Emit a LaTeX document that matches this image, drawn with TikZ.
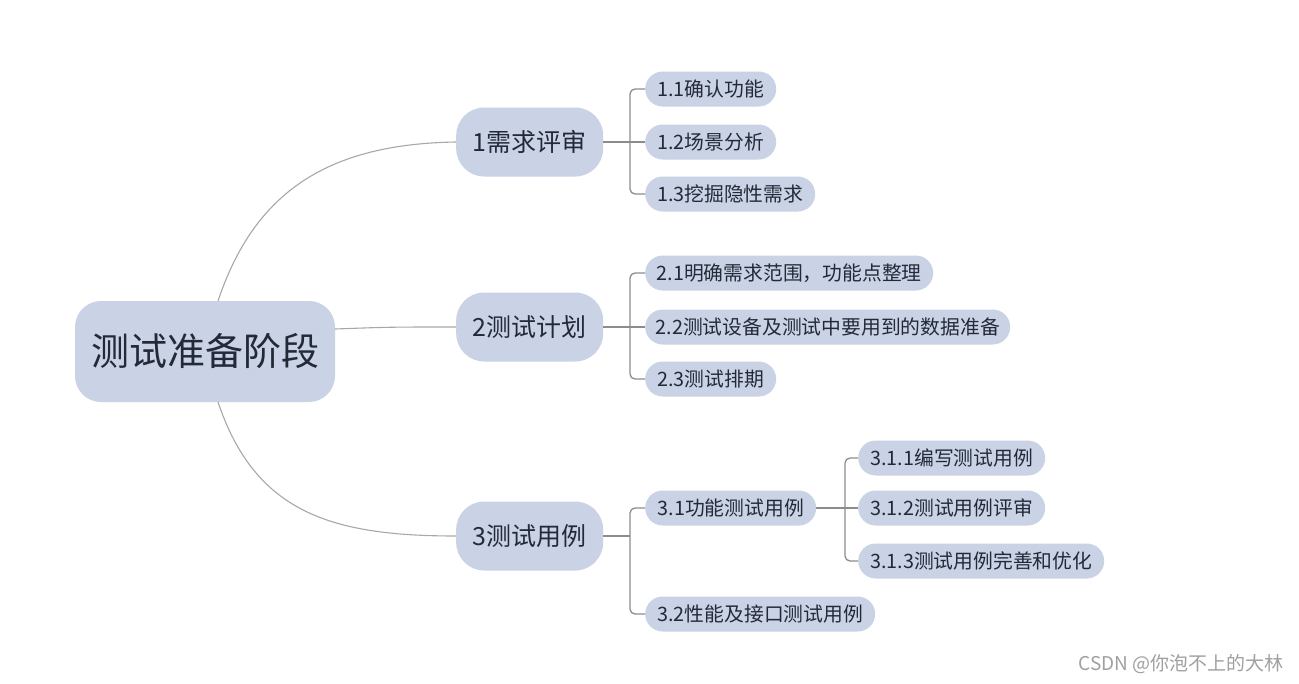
\documentclass[tikz,border=0pt]{standalone}
\usepackage{fontspec}
\setmainfont{Noto Sans CJK SC}
\definecolor{nodefill}{HTML}{C9D3E5}
\definecolor{txt}{HTML}{232938}
\definecolor{curvecol}{HTML}{A8A8A8}
\definecolor{brcol}{HTML}{8C8C8C}
\definecolor{wmcol}{HTML}{A0A0A0}
\tikzset{
  rootbox/.style={fill=nodefill, rounded corners=26pt, minimum width=260pt, minimum height=101pt, inner sep=0pt, text=txt, font=\fontsize{38}{44}\selectfont},
  mainbox/.style={fill=nodefill, rounded corners=28pt, minimum width=147pt, minimum height=69pt, inner sep=0pt, anchor=west, text=txt, font=\fontsize{25}{30}\selectfont},
  leafbox/.style={fill=nodefill, rounded corners=17.5pt, minimum height=35pt, inner sep=0pt, anchor=west, text=txt, font=\fontsize{19.8}{23}\selectfont},
  curveline/.style={draw=curvecol, line width=1.1pt},
  brline/.style={draw=brcol, line width=1.3pt, rounded corners=5pt},
}
\begin{document}
\begin{tikzpicture}[x=1pt,y=-1pt]
\useasboundingbox[fill=white] (0,0) rectangle (1299,683);

% root
\node[rootbox] (root) at (205,351.5) {测试准备阶段};

% level 1
\node[mainbox] (n1) at (456,142) {1需求评审};
\node[mainbox] (n2) at (456,327) {2测试计划};
\node[mainbox] (n3) at (456,536) {3测试用例};

% level 2
\node[leafbox, minimum width=131pt] (c11) at (645,89) {1.1确认功能};
\node[leafbox, minimum width=131pt] (c12) at (645,142) {1.2场景分析};
\node[leafbox, minimum width=170pt] (c13) at (645,194) {1.3挖掘隐性需求};

\node[leafbox, minimum width=288pt] (c21) at (645,273) {2.1明确需求范围，功能点整理};
\node[leafbox, minimum width=365pt] (c22) at (645,327) {2.2测试设备及测试中要用到的数据准备};
\node[leafbox, minimum width=131pt] (c23) at (645,379) {2.3测试排期};

\node[leafbox, minimum width=171pt] (c31) at (645,508) {3.1功能测试用例};
\node[leafbox, minimum width=230pt] (c32) at (645,614) {3.2性能及接口测试用例};

\node[leafbox, minimum width=187pt] (c311) at (858,458) {3.1.1编写测试用例};
\node[leafbox, minimum width=187pt] (c312) at (858,508) {3.1.2测试用例评审};
\node[leafbox, minimum width=246pt] (c313) at (858,561) {3.1.3测试用例完善和优化};

% root connectors
\coordinate (rtop) at (218,301);
\coordinate (rmid) at (335,329);
\coordinate (rbot) at (218,402);
\draw[curveline] (rtop) .. controls (255,190) and (330,144) .. (n1.west);
\draw[curveline] (rmid) .. controls (390,327) .. (n2.west);
\draw[curveline] (rbot) .. controls (255,512) and (330,536) .. (n3.west);

% brackets
\draw[brline] (n1.east) -- (c12.west);
\draw[brline] (c11.west) -- ++(-15,0) |- (c13.west);

\draw[brline] (n2.east) -- (c22.west);
\draw[brline] (c21.west) -- ++(-15,0) |- (c23.west);

\coordinate (j3) at (630,536);
\draw[brline] (n3.east) -- (j3);
\draw[brline] (c31.west) -- ++(-15,0) |- (c32.west);

\draw[brline] (c31.east) -- (c312.west);
\draw[brline] (c311.west) -- ++(-13,0) |- (c313.west);

% watermark
\node[anchor=east, text=wmcol, font=\fontsize{19}{22}\selectfont, inner sep=0pt] (wm) at (1284,664) {CSDN @你泡不上的大林};
\end{tikzpicture}
\end{document}
